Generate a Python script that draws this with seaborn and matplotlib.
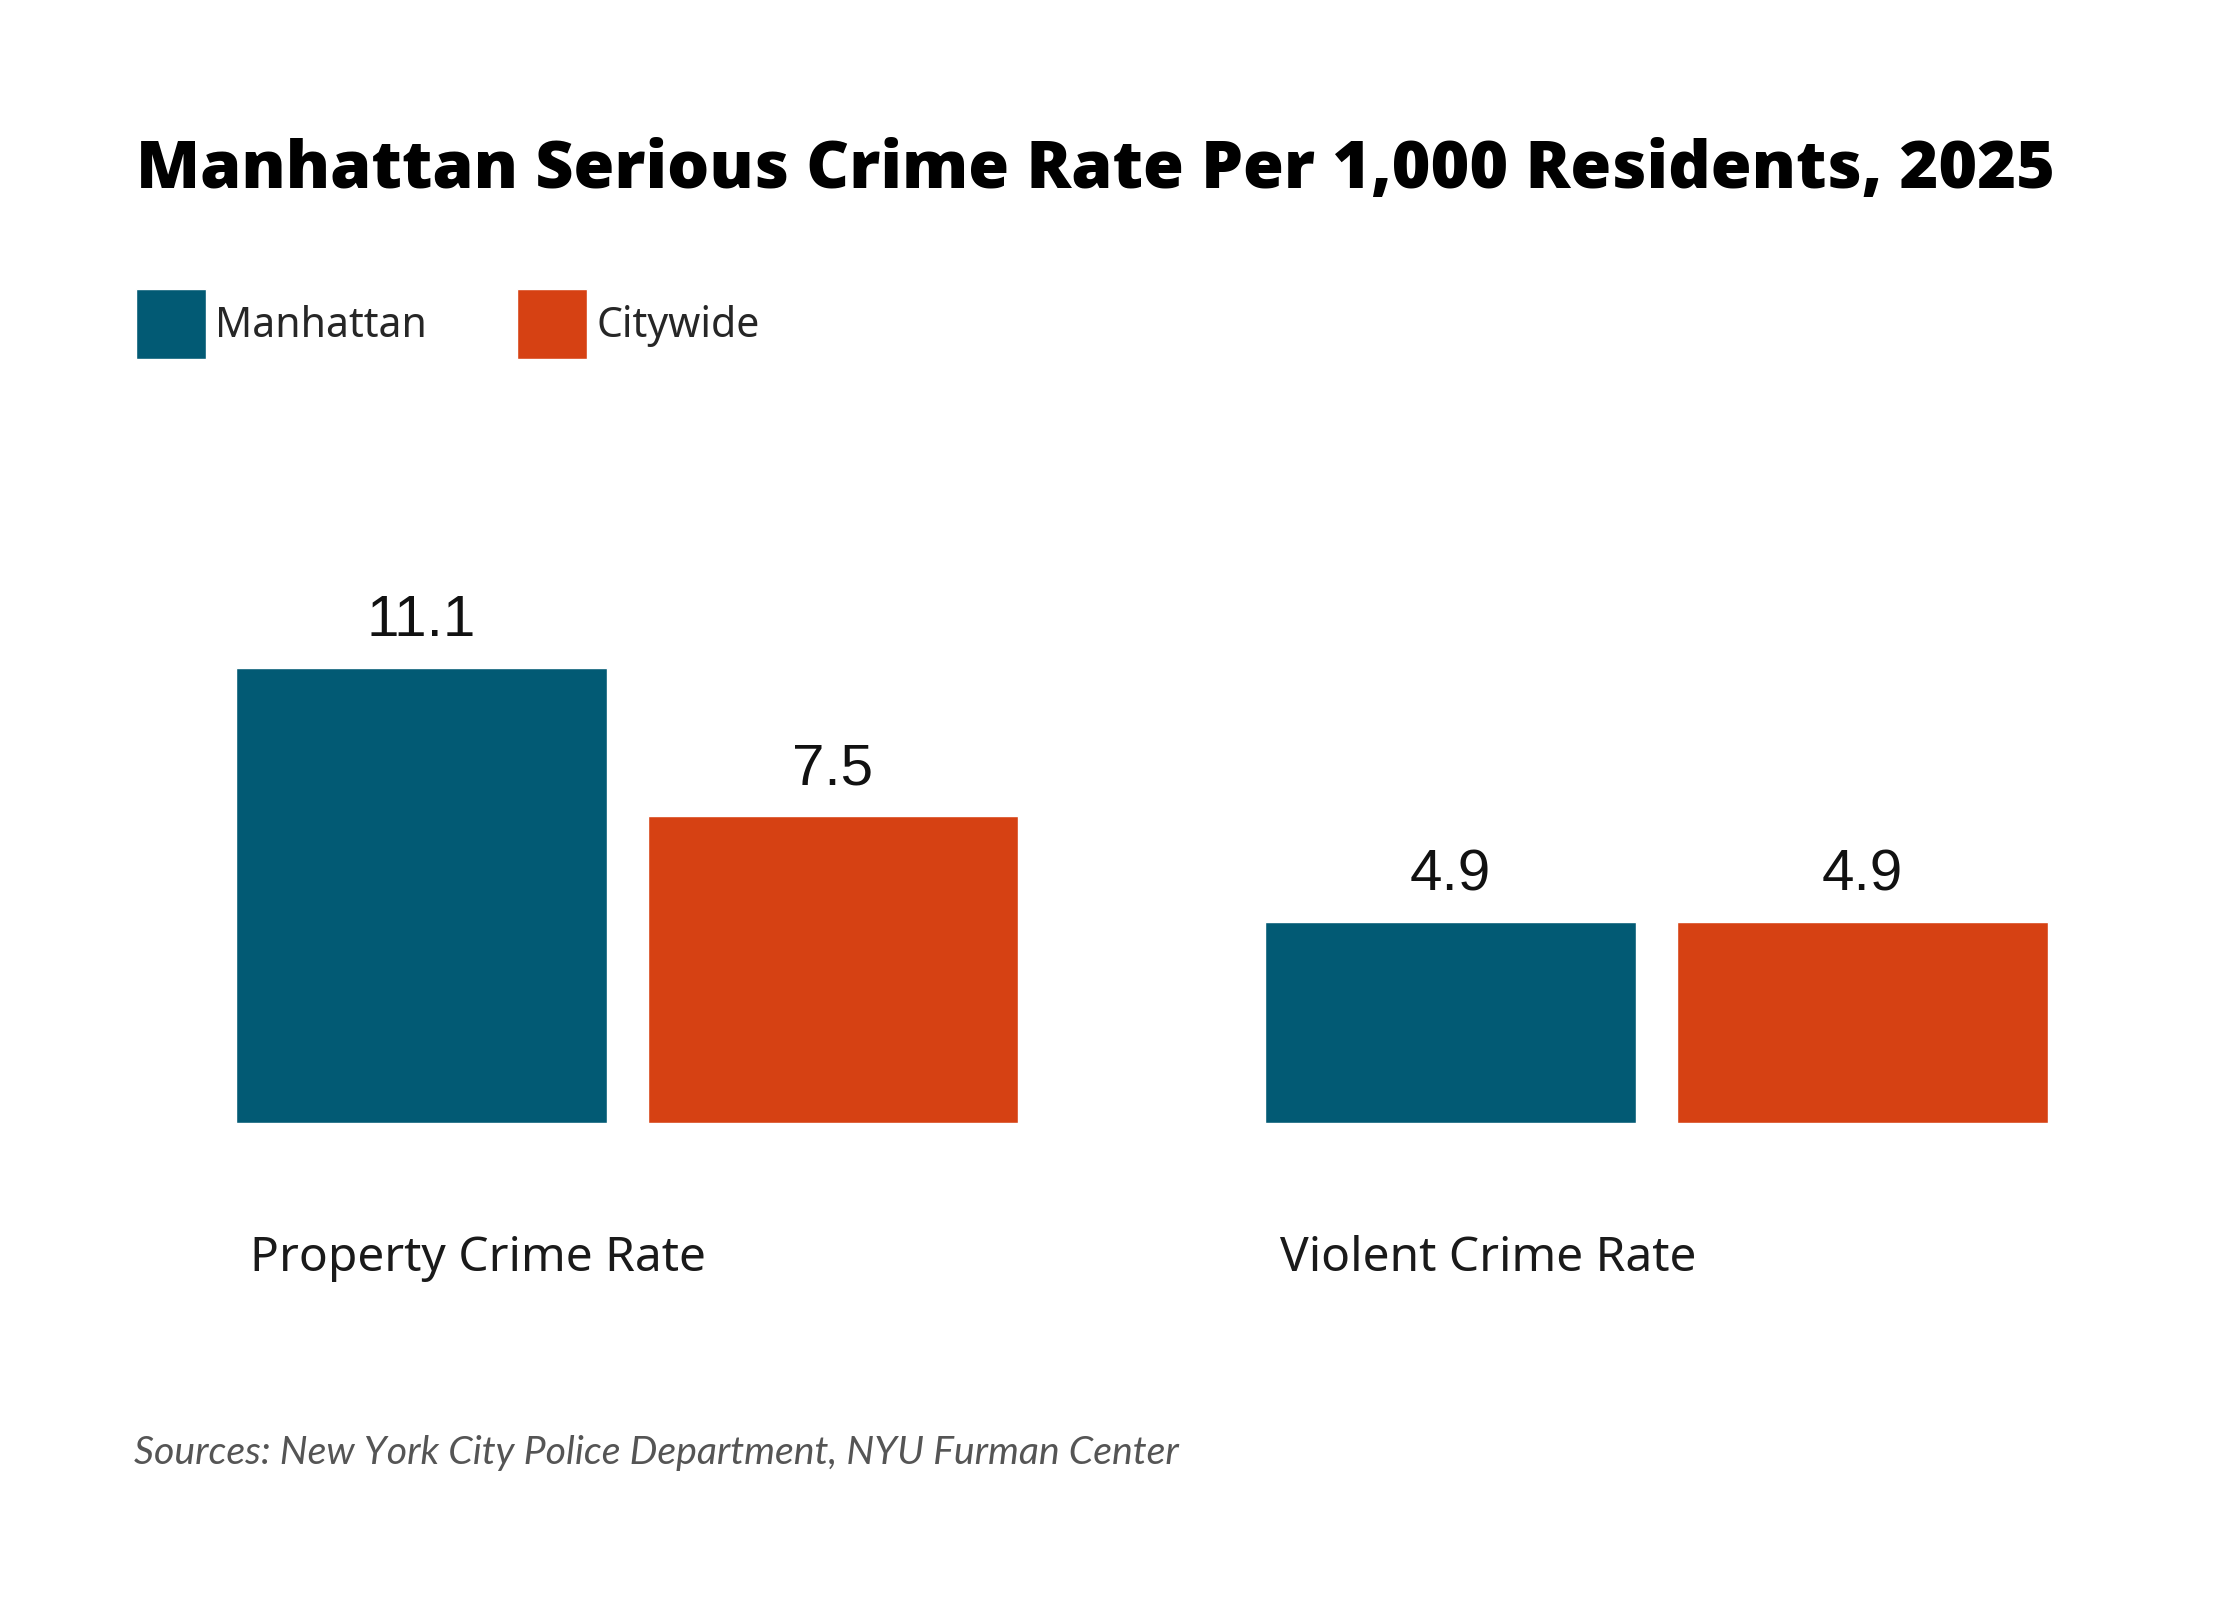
import numpy as np
import pandas as pd
import matplotlib
matplotlib.use("Agg")
import matplotlib.pyplot as plt
import matplotlib.transforms as mtransforms
import seaborn as sns

categories = ["Property Crime Rate", "Violent Crime Rate"]
areas = ["Manhattan", "Citywide"]
manhattan_rate = [11.1, 4.9]
citywide_rate = [7.5, 4.9]
colors = {"Manhattan": "#025A74", "Citywide": "#D64113"}

title = "Manhattan Serious Crime Rate Per 1,000 Residents, 2025"
source = "Sources: New York City Police Department, NYU Furman Center"

df = pd.DataFrame({
    "category": categories * 2,
    "area": [areas[0]] * len(categories) + [areas[1]] * len(categories),
    "rate": manhattan_rate + citywide_rate,
})

sns.set_theme(style="white")
plt.rcParams["font.family"] = ["Noto Sans", "DejaVu Sans"]

W, H = 2240, 1600
BAR_W, GAP = 0.8, 0.1

fig = plt.figure(figsize=(W / 100, H / 100), dpi=100)
ax = fig.add_axes([120 / W, 1 - 1123 / H, 2040 / W, 492 / H])

sns.barplot(
    data=df, x="category", y="rate", hue="area",
    order=categories, hue_order=areas, palette=colors,
    width=BAR_W, gap=GAP, saturation=1, ax=ax, legend=True,
)

ax.set_xlim(-0.4926, 1.4891)
ax.set_ylim(0, 12)
for side in ["top", "right", "left", "bottom"]:
    ax.spines[side].set_visible(False)
ax.set_xticks([])
ax.set_yticks([])
ax.set_xlabel("")
ax.set_ylabel("")

# value labels above bars
for cont in ax.containers:
    ax.bar_label(cont, fmt="%.1f", padding=14, fontsize=42,
                 family=["Liberation Sans", "DejaVu Sans"], color="#111111")

# category labels, left aligned under the first bar of each group
slot = BAR_W / len(areas)
trans = mtransforms.blended_transform_factory(ax.transData, fig.transFigure)
for i, cat in enumerate(categories):
    x_left = i - BAR_W / 2 + slot * GAP / 2
    ax.text(x_left + 0.014, 1 - 1271 / H, cat, transform=trans,
            ha="left", va="baseline", fontsize=34.5, color="#1a1a1a")

# legend at top
sns.move_legend(
    ax, "upper left", bbox_to_anchor=(136 / W, 1 - 289 / H),
    bbox_transform=fig.transFigure, ncol=2, title=None, frameon=False,
    fontsize=29.5, handlelength=1.71, handleheight=2.26, handletextpad=0.22,
    columnspacing=2.2, borderpad=0, borderaxespad=0,
)

fig.text(136 / W, 1 - 188 / H, title, ha="left", va="baseline",
         fontsize=47.7, fontweight="heavy", color="#000000",
         family=["Open Sans", "DejaVu Sans"])
fig.text(134 / W, 1 - 1464 / H, source, ha="left", va="baseline",
         fontsize=28.3, style="italic", color="#555555",
         family=["Lato", "DejaVu Sans"])

fig.savefig("out.png", dpi=100, facecolor="white")
plt.close(fig)
